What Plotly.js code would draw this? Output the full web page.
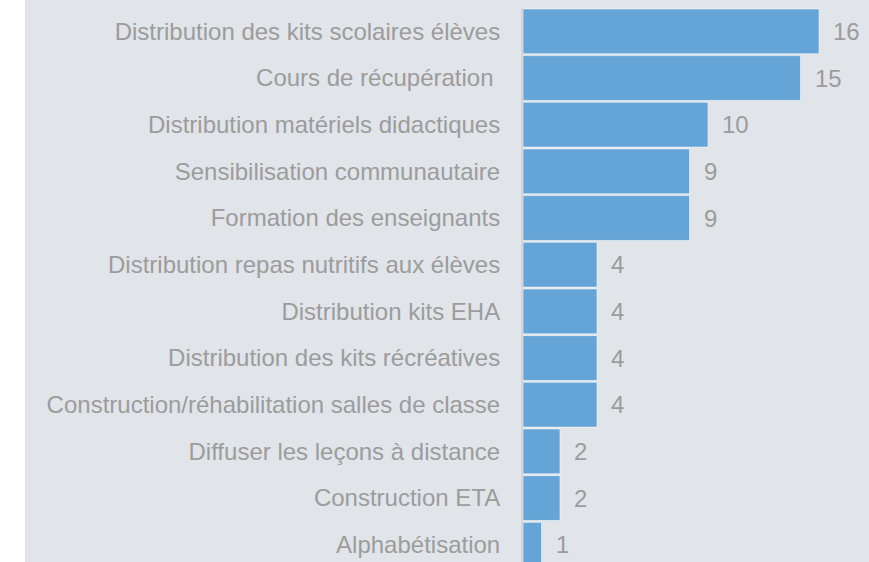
<!DOCTYPE html>
<html>
<head>
<meta charset="utf-8">
<script src="https://cdn.plot.ly/plotly-3.0.1.min.js"></script>
<style>
html,body{margin:0;padding:0;background:#ffffff;overflow:hidden;}
#chart{position:absolute;left:25px;top:0;width:844px;height:562px;}
</style>
</head>
<body>
<div id="chart"></div>
<script>
const categories = [
  "Distribution des kits scolaires élèves",
  "Cours de récupération ",
  "Distribution matériels didactiques",
  "Sensibilisation communautaire",
  "Formation des enseignants",
  "Distribution repas nutritifs aux élèves",
  "Distribution kits EHA",
  "Distribution des kits récréatives",
  "Construction/réhabilitation salles de classe",
  "Diffuser les leçons à distance",
  "Construction ETA",
  "Alphabétisation"
];
const values = [16, 15, 10, 9, 9, 4, 4, 4, 4, 2, 2, 1];

const gray = "#9c9c9c";
const fontFam = "Liberation Sans, Arial, sans-serif";

const trace = {
  type: "bar",
  orientation: "h",
  y: categories,
  x: values,
  width: 0.96,
  marker: {color: "#65a4d6", line: {color: "rgba(255,255,255,0.55)", width: 1}},
  hoverinfo: "none"
};

const annotations = values.map((v, i) => ({
  x: v, y: categories[i], xref: "x", yref: "y",
  text: String(v), showarrow: false, xanchor: "left", xshift: 12, yshift: 0,
  font: {family: fontFam, size: 24, color: gray}
}));

const layout = {
  width: 844, height: 562,
  margin: {l: 498, r: 0, t: 8, b: 0, pad: 0},
  paper_bgcolor: "#e1e4e9",
  plot_bgcolor: "#e1e4e9",
  showlegend: false,
  xaxis: {range: [0, 18.7], showgrid: false, zeroline: false, showticklabels: false, showline: false, fixedrange: true},
  yaxis: {
    type: "category",
    range: [11.37, -0.5],
    showgrid: false, zeroline: false,
    showline: true, linecolor: "#d3d7dd", linewidth: 2,
    ticks: "", ticklabelstandoff: 16,
    tickfont: {family: fontFam, size: 24, color: gray},
    fixedrange: true
  },
  annotations: annotations
};

Plotly.newPlot("chart", [trace], layout, {displayModeBar: false, staticPlot: true});
</script>
</body>
</html>
